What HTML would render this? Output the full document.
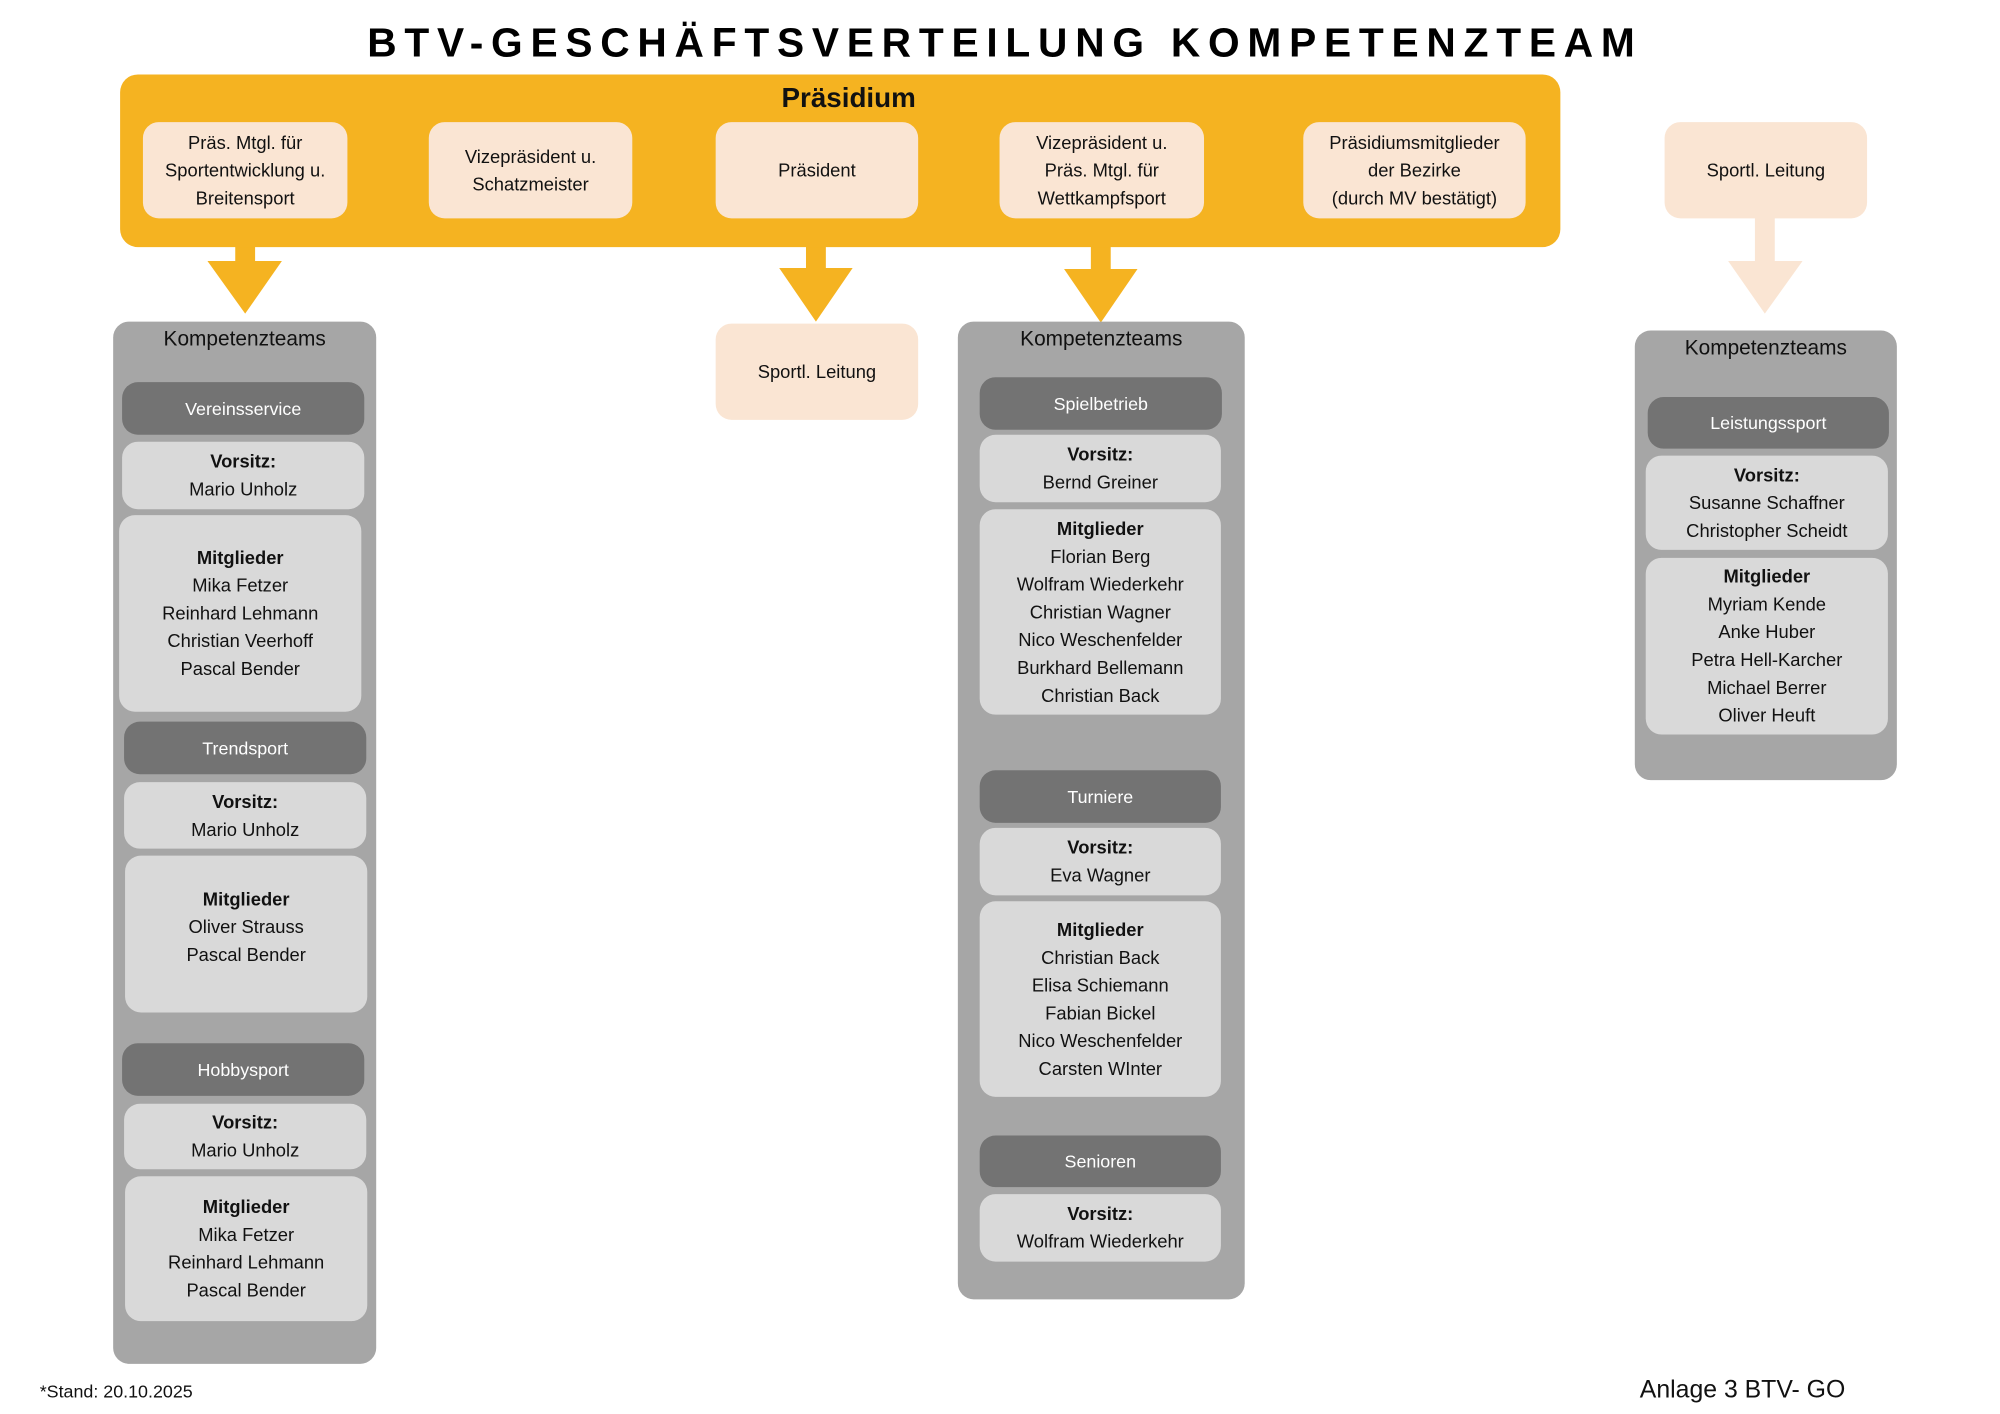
<!DOCTYPE html>
<html><head><meta charset="utf-8"><style>
*{margin:0;padding:0;box-sizing:border-box}
body{width:2000px;height:1414px;background:#fff;position:relative;overflow:hidden;font-family:"Liberation Sans",sans-serif;color:#111}
#w{position:absolute;left:0;top:0;width:2000px;height:1414px;transform:scale(0.9926);transform-origin:0 0}
.b{position:absolute;display:flex;flex-direction:column;align-items:center;justify-content:center;text-align:center;font-size:18.5px;line-height:28px}
.or{background:#F5B321;border-radius:18px}
.pe{background:#FAE5D3;border-radius:16px}
.gr{background:#A6A6A6;border-radius:16px}
.dk{background:#737373;border-radius:16px;color:#fff;font-size:18px}
.lt{background:#D9D9D9;border-radius:16px}
b{font-weight:bold}
.kt{position:absolute;font-size:21px;text-align:center}
</style></head><body><div id="w">
<svg style="position:absolute;left:0;top:0" width="2000" height="1414">
<text x="370" y="57" textLength="1277" lengthAdjust="spacing" font-family="Liberation Sans" font-weight="bold" font-size="41">BTV-GESCHÄFTSVERTEILUNG KOMPETENZTEAM</text>
<rect x="237" y="248" width="20" height="16" fill="#F5B321"/>
<polygon points="209,263 284,263 247,316" fill="#F5B321"/>
<rect x="812" y="248" width="20" height="23" fill="#F5B321"/>
<polygon points="785,270 859,270 822,324" fill="#F5B321"/>
<rect x="1099" y="248" width="20" height="24" fill="#F5B321"/>
<polygon points="1072,271 1146,271 1109,325" fill="#F5B321"/>
<rect x="1768" y="219" width="20" height="45" fill="#FAE5D3"/>
<polygon points="1741,263 1816,263 1778,316" fill="#FAE5D3"/>
</svg>
<div class="b or" style="left:121px;top:75px;width:1451px;height:174px"></div>
<div class="b" style="left:700px;top:80px;width:310px;height:38px;font-size:28px;font-weight:bold">Präsidium</div>
<div class="b pe" style="left:144px;top:123px;width:206px;height:97px">Präs. Mtgl. für<br>Sportentwicklung u.<br>Breitensport</div>
<div class="b pe" style="left:432px;top:123px;width:205px;height:97px">Vizepräsident u.<br>Schatzmeister</div>
<div class="b pe" style="left:721px;top:123px;width:204px;height:97px">Präsident</div>
<div class="b pe" style="left:1007px;top:123px;width:206px;height:97px">Vizepräsident u.<br>Präs. Mtgl. für<br>Wettkampfsport</div>
<div class="b pe" style="left:1313px;top:123px;width:224px;height:97px">Präsidiumsmitglieder<br>der Bezirke<br>(durch MV bestätigt)</div>
<div class="b pe" style="left:1677px;top:123px;width:204px;height:97px">Sportl. Leitung</div>
<div class="b pe" style="left:721px;top:326px;width:204px;height:97px">Sportl. Leitung</div>

<div class="b gr" style="left:114px;top:324px;width:265px;height:1050px"></div>
<div class="kt" style="left:114px;top:330px;width:265px">Kompetenzteams</div>
<div class="b dk" style="left:123px;top:385px;width:244px;height:53px">Vereinsservice</div>
<div class="b lt" style="left:123px;top:445px;width:244px;height:68px"><b>Vorsitz:</b>Mario Unholz</div>
<div class="b lt" style="left:120px;top:519px;width:244px;height:198px"><b>Mitglieder</b>Mika Fetzer<br>Reinhard Lehmann<br>Christian Veerhoff<br>Pascal Bender</div>
<div class="b dk" style="left:125px;top:727px;width:244px;height:53px">Trendsport</div>
<div class="b lt" style="left:125px;top:788px;width:244px;height:67px"><b>Vorsitz:</b>Mario Unholz</div>
<div class="b lt" style="left:126px;top:862px;width:244px;height:158px;justify-content:flex-start;padding-top:30px"><b>Mitglieder</b>Oliver Strauss<br>Pascal Bender</div>
<div class="b dk" style="left:123px;top:1051px;width:244px;height:53px">Hobbysport</div>
<div class="b lt" style="left:125px;top:1112px;width:244px;height:66px"><b>Vorsitz:</b>Mario Unholz</div>
<div class="b lt" style="left:126px;top:1185px;width:244px;height:146px"><b>Mitglieder</b>Mika Fetzer<br>Reinhard Lehmann<br>Pascal Bender</div>

<div class="b gr" style="left:965px;top:324px;width:289px;height:985px"></div>
<div class="kt" style="left:965px;top:330px;width:289px">Kompetenzteams</div>
<div class="b dk" style="left:987px;top:380px;width:244px;height:53px">Spielbetrieb</div>
<div class="b lt" style="left:987px;top:438px;width:243px;height:68px"><b>Vorsitz:</b>Bernd Greiner</div>
<div class="b lt" style="left:987px;top:513px;width:243px;height:207px"><b>Mitglieder</b>Florian Berg<br>Wolfram Wiederkehr<br>Christian Wagner<br>Nico Weschenfelder<br>Burkhard Bellemann<br>Christian Back</div>
<div class="b dk" style="left:987px;top:776px;width:243px;height:53px">Turniere</div>
<div class="b lt" style="left:987px;top:834px;width:243px;height:68px"><b>Vorsitz:</b>Eva Wagner</div>
<div class="b lt" style="left:987px;top:908px;width:243px;height:197px"><b>Mitglieder</b>Christian Back<br>Elisa Schiemann<br>Fabian Bickel<br>Nico Weschenfelder<br>Carsten WInter</div>
<div class="b dk" style="left:987px;top:1144px;width:243px;height:52px">Senioren</div>
<div class="b lt" style="left:987px;top:1203px;width:243px;height:68px"><b>Vorsitz:</b>Wolfram Wiederkehr</div>

<div class="b gr" style="left:1647px;top:333px;width:264px;height:453px"></div>
<div class="kt" style="left:1647px;top:339px;width:264px">Kompetenzteams</div>
<div class="b dk" style="left:1660px;top:400px;width:243px;height:52px">Leistungssport</div>
<div class="b lt" style="left:1658px;top:459px;width:244px;height:95px"><b>Vorsitz:</b>Susanne Schaffner<br>Christopher Scheidt</div>
<div class="b lt" style="left:1658px;top:562px;width:244px;height:178px"><b>Mitglieder</b>Myriam Kende<br>Anke Huber<br>Petra Hell-Karcher<br>Michael Berrer<br>Oliver Heuft</div>

<div style="position:absolute;left:40px;top:1392px;font-size:18px">*Stand: 20.10.2025</div>
<div style="position:absolute;left:1652px;top:1386px;font-size:25px">Anlage 3 BTV- GO</div>
</div></body></html>
